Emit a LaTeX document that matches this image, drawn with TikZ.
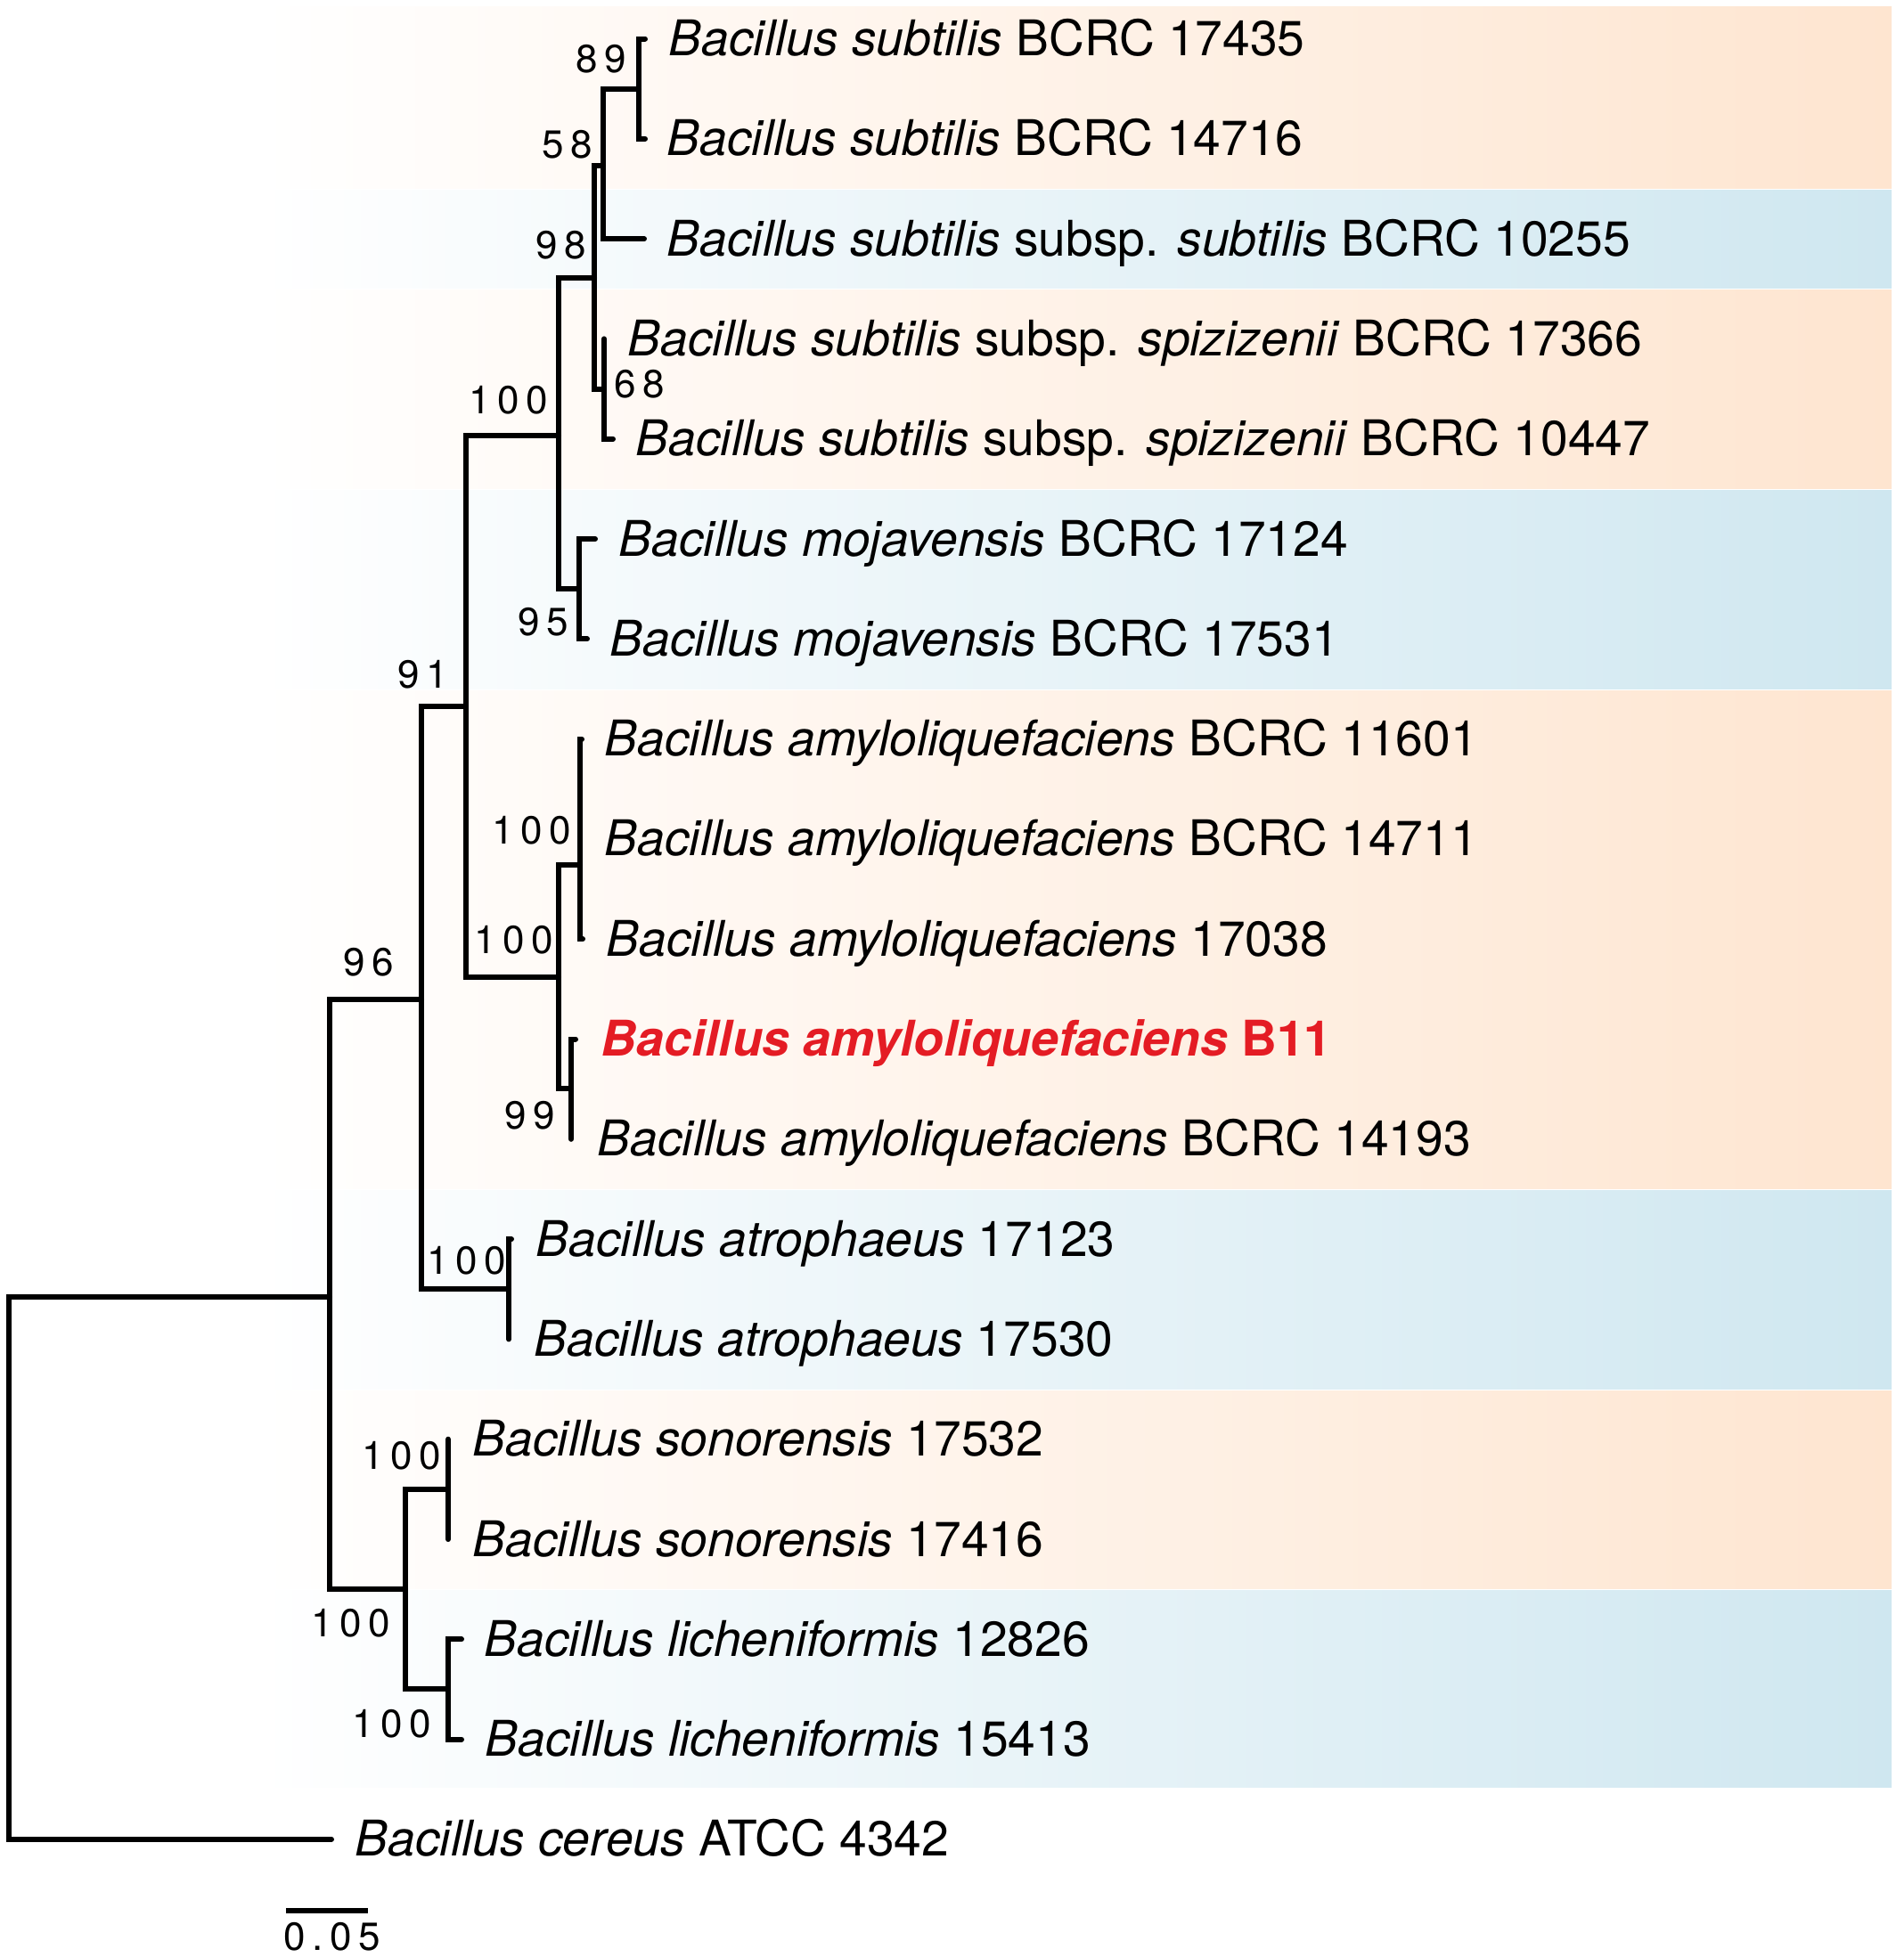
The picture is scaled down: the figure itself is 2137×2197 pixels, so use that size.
\documentclass[tikz,border=0pt]{standalone}
\usepackage{fontspec}
\setmainfont{TeX Gyre Heros}
\newfontfamily\bsfont[LetterSpace=17]{TeX Gyre Heros}
\definecolor{bandO}{RGB}{254,229,208}
\definecolor{bandB}{RGB}{207,231,240}
\definecolor{hlred}{RGB}{228,28,36}
\begin{document}
\begin{tikzpicture}[x=0.25pt, y=-0.25pt,
  branch/.style={line width=1.5pt, line cap=round, line join=miter, black},
  taxon/.style={anchor=base west, inner sep=0pt, font=\fontsize{13.8pt}{16pt}\selectfont},
  bs/.style={anchor=center, inner sep=0pt, font=\bsfont\fontsize{11pt}{13pt}\selectfont},
  bandorange/.style={left color=white, right color=bandO},
  bandblue/.style={left color=white, right color=bandB}]
\useasboundingbox (0,0) rectangle (2137,2197);
\fill[white] (0,0) rectangle (2137,2197);

% background bands
\fill[bandorange] (290,7) rectangle (2123,211);
\fill[bandblue]   (290,213) rectangle (2123,323);
\fill[bandorange] (290,325) rectangle (2123,548);
\fill[bandblue]   (290,550) rectangle (2123,773);
\fill[bandorange] (290,775) rectangle (2123,1334);
\fill[bandblue]   (290,1336) rectangle (2123,1559);
\fill[bandorange] (290,1561) rectangle (2123,1783);
\fill[bandblue]   (290,1785) rectangle (2123,2006);

% internal nodes
\coordinate (root)  at (10,1760);
\coordinate (nR1)   at (370,1456);
\coordinate (n96)   at (473,1122);
\coordinate (n91)   at (523,793);
\coordinate (n100a) at (627,489);
\coordinate (n98)   at (667,312);
\coordinate (n58)   at (677,186);
\coordinate (n89)   at (717,100);
\coordinate (n68)   at (678,437);
\coordinate (n95)   at (650,661);
\coordinate (n100b) at (627,1097);
\coordinate (nAmy)  at (651,971);
\coordinate (n99)   at (641,1222);
\coordinate (nAtro) at (571,1447);
\coordinate (nSL)   at (455,1784);
\coordinate (nSon)  at (503,1672);
\coordinate (nLich) at (503,1896);

% leaf tips
\coordinate (t1)  at (724,43.5);
\coordinate (t2)  at (724,155.8);
\coordinate (t3)  at (723,268.1);
\coordinate (t4)  at (678,380.4);
\coordinate (t5)  at (688,492.7);
\coordinate (t6)  at (668,605);
\coordinate (t7)  at (659,717.3);
\coordinate (t8)  at (653,829.6);
\coordinate (t9)  at (651,941.9);
\coordinate (t10) at (654,1054.2);
\coordinate (t11) at (646,1166.5);
\coordinate (t12) at (641,1278.8);
\coordinate (t13) at (574,1391.1);
\coordinate (t14) at (571,1503.4);
\coordinate (t15) at (503,1615.7);
\coordinate (t16) at (503,1728);
\coordinate (t17) at (518,1840.3);
\coordinate (t18) at (518,1952.6);
\coordinate (t19) at (372,2064.9);

% branches
\draw[branch] (root) |- (nR1);
\draw[branch] (root) |- (t19);
\draw[branch] (nR1) |- (n96);
\draw[branch] (nR1) |- (nSL);
\draw[branch] (n96) |- (n91);
\draw[branch] (n96) |- (nAtro);
\draw[branch] (n91) |- (n100a);
\draw[branch] (n91) |- (n100b);
\draw[branch] (n100a) |- (n98);
\draw[branch] (n100a) |- (n95);
\draw[branch] (n98) |- (n58);
\draw[branch] (n98) |- (n68);
\draw[branch] (n58) |- (n89);
\draw[branch] (n58) |- (t3);
\draw[branch] (n89) |- (t1);
\draw[branch] (n89) |- (t2);
\draw[branch] (n68) |- (t4);
\draw[branch] (n68) |- (t5);
\draw[branch] (n95) |- (t6);
\draw[branch] (n95) |- (t7);
\draw[branch] (n100b) |- (nAmy);
\draw[branch] (n100b) |- (n99);
\draw[branch] (nAmy) |- (t8);
\draw[branch] (nAmy) |- (t9);
\draw[branch] (nAmy) |- (t10);
\draw[branch] (n99) |- (t11);
\draw[branch] (n99) |- (t12);
\draw[branch] (nAtro) |- (t13);
\draw[branch] (nAtro) |- (t14);
\draw[branch] (nSL) |- (nSon);
\draw[branch] (nSL) |- (nLich);
\draw[branch] (nSon) |- (t15);
\draw[branch] (nSon) |- (t16);
\draw[branch] (nLich) |- (t17);
\draw[branch] (nLich) |- (t18);

% taxon labels
\node[taxon] (L1)  at (750,62.5)   {\textit{Bacillus subtilis} BCRC 17435};
\node[taxon] (L2)  at (748,174.8)  {\textit{Bacillus subtilis} BCRC 14716};
\node[taxon] (L3)  at (748,287.1)  {\textit{Bacillus subtilis} subsp. \textit{subtilis} BCRC 10255};
\node[taxon] (L4)  at (704,399.4)  {\textit{Bacillus subtilis} subsp. \textit{spizizenii} BCRC 17366};
\node[taxon] (L5)  at (713,511.7)  {\textit{Bacillus subtilis} subsp. \textit{spizizenii} BCRC 10447};
\node[taxon] (L6)  at (694,624)    {\textit{Bacillus mojavensis} BCRC 17124};
\node[taxon] (L7)  at (684,736.3)  {\textit{Bacillus mojavensis} BCRC 17531};
\node[taxon] (L8)  at (678,848.6)  {\textit{Bacillus amyloliquefaciens} BCRC 11601};
\node[taxon] (L9)  at (678,960.9)  {\textit{Bacillus amyloliquefaciens} BCRC 14711};
\node[taxon] (L10) at (680,1073.2) {\textit{Bacillus amyloliquefaciens} 17038};
\node[taxon, text=hlred] (L11) at (674,1185.5) {\bfseries\textit{Bacillus amyloliquefaciens} B11};
\node[taxon] (L12) at (670,1297.8) {\textit{Bacillus amyloliquefaciens} BCRC 14193};
\node[taxon] (L13) at (601,1410.1) {\textit{Bacillus atrophaeus} 17123};
\node[taxon] (L14) at (599,1522.4) {\textit{Bacillus atrophaeus} 17530};
\node[taxon] (L15) at (530,1634.7) {\textit{Bacillus sonorensis} 17532};
\node[taxon] (L16) at (530,1747)   {\textit{Bacillus sonorensis} 17416};
\node[taxon] (L17) at (543,1859.3) {\textit{Bacillus licheniformis} 12826};
\node[taxon] (L18) at (544,1971.6) {\textit{Bacillus licheniformis} 15413};
\node[taxon] (L19) at (398,2083.9) {\textit{Bacillus cereus} ATCC 4342};

% bootstrap values
\node[bs] (b89)  at (675,66)   {89};
\node[bs] (b58)  at (637,162)  {58};
\node[bs] (b98)  at (630,275)  {98};
\node[bs] (b68)  at (718,431)  {68};
\node[bs] (b100a) at (571,449) {100};
\node[bs] (b95)  at (610,698)  {95};
\node[bs] (b91)  at (475,757)  {91};
\node[bs] (b100c) at (597,932) {100};
\node[bs] (b100b) at (577,1055) {100};
\node[bs] (b96)  at (414,1080) {96};
\node[bs] (b99)  at (595,1252) {99};
\node[bs] (b100t) at (524,1415) {100};
\node[bs] (b100s) at (451,1634) {100};
\node[bs] (b100sl) at (394,1822) {100};
\node[bs] (b100l) at (440,1935) {100};

% scale bar
\coordinate (sbL) at (321,2145);
\coordinate (sbR) at (413,2145);
\draw[branch, line cap=butt] (sbL) -- (sbR);
\node[bs] (sbT) at (373,2174) {0.05};
\end{tikzpicture}
\end{document}
